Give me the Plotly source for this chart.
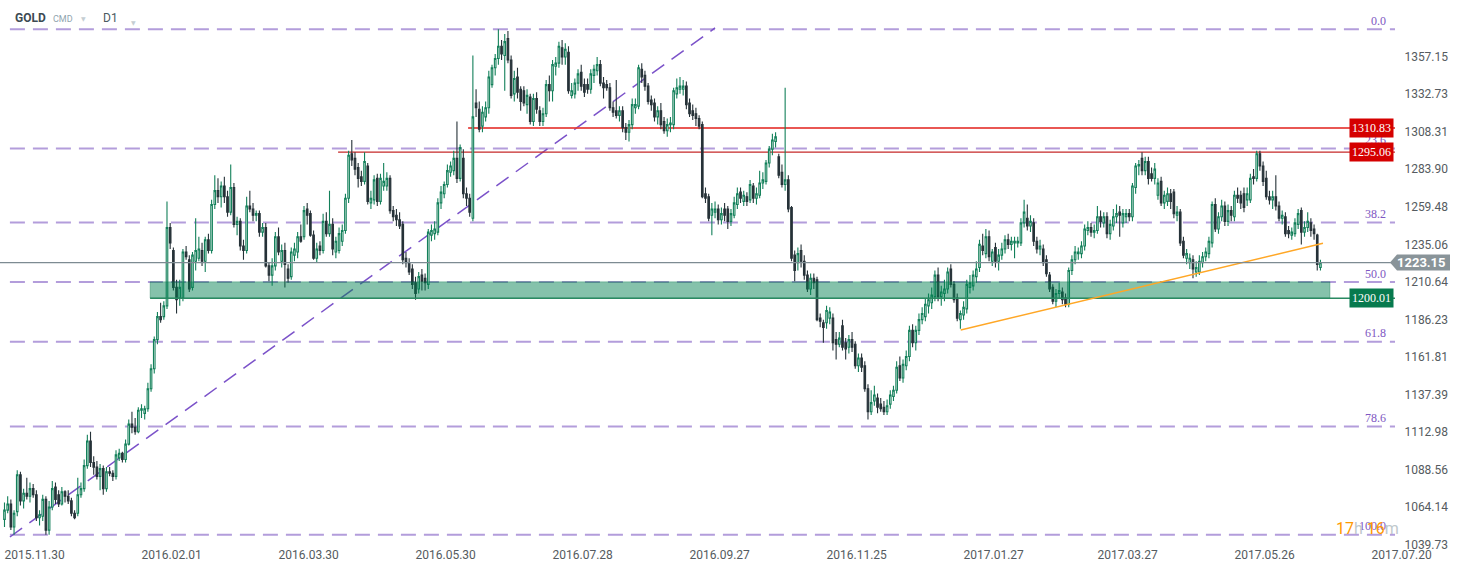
import plotly.graph_objects as go

# ---------------- data ----------------
OPEN = [
    1056, 1062, 1066, 1051, 1061, 1085, 1068, 1073, 1071, 1076,
    1072, 1057, 1058, 1069, 1049, 1064, 1077, 1072, 1066, 1074,
    1071, 1068, 1060, 1060, 1072, 1076, 1091, 1107, 1093, 1090,
    1084, 1089, 1076, 1087, 1086, 1084, 1096, 1099, 1095, 1105,
    1118, 1116, 1113, 1127, 1125, 1128, 1141, 1154, 1173, 1188,
    1188, 1195, 1246, 1231, 1207, 1200, 1200, 1230, 1225, 1207,
    1224, 1226, 1231, 1224, 1238, 1231, 1261, 1270, 1266, 1273,
    1266, 1256, 1272, 1248, 1250, 1234, 1231, 1260, 1258, 1254,
    1255, 1243, 1246, 1221, 1215, 1221, 1240, 1224, 1231, 1219,
    1214, 1228, 1230, 1240, 1240, 1258, 1255, 1241, 1226, 1234,
    1231, 1250, 1242, 1248, 1230, 1231, 1237, 1244, 1265, 1294,
    1291, 1285, 1279, 1276, 1286, 1262, 1264, 1278, 1263, 1273,
    1273, 1278, 1257, 1254, 1251, 1248, 1226, 1223, 1219, 1210,
    1206, 1215, 1213, 1209, 1241, 1242, 1243, 1262, 1268, 1274,
    1282, 1283, 1291, 1278, 1291, 1268, 1265, 1252, 1327, 1323,
    1312, 1318, 1324, 1339, 1350, 1356, 1364, 1358, 1369, 1355,
    1333, 1344, 1336, 1335, 1326, 1331, 1315, 1330, 1322, 1315,
    1320, 1339, 1335, 1351, 1353, 1363, 1357, 1360, 1332, 1333,
    1340, 1347, 1339, 1339, 1336, 1345, 1348, 1352, 1340, 1339,
    1337, 1324, 1322, 1319, 1322, 1311, 1308, 1313, 1324, 1325,
    1349, 1345, 1338, 1329, 1327, 1318, 1322, 1315, 1309, 1313,
    1313, 1333, 1336, 1336, 1338, 1327, 1322, 1320, 1317, 1313,
    1268, 1266, 1254, 1256, 1258, 1251, 1258, 1258, 1250, 1254,
    1261, 1269, 1263, 1266, 1264, 1273, 1265, 1267, 1275, 1276,
    1288, 1297, 1302, 1292, 1282, 1274, 1277, 1259, 1228, 1223,
    1231, 1224, 1215, 1206, 1213, 1212, 1187, 1184, 1184, 1187,
    1187, 1173, 1170, 1182, 1171, 1168, 1173, 1170, 1156, 1161,
    1156, 1141, 1126, 1133, 1135, 1131, 1129, 1126, 1131, 1136,
    1140, 1156, 1148, 1156, 1162, 1179, 1171, 1179, 1186, 1188,
    1195, 1197, 1201, 1215, 1201, 1203, 1206, 1219, 1209, 1200,
    1186, 1189, 1193, 1207, 1208, 1214, 1220, 1234, 1229, 1240,
    1224, 1233, 1224, 1228, 1232, 1238, 1235, 1236, 1236, 1236,
    1249, 1252, 1247, 1249, 1237, 1232, 1232, 1225, 1215, 1207,
    1198, 1203, 1204, 1200, 1196, 1218, 1225, 1229, 1229, 1234,
    1244, 1246, 1243, 1244, 1253, 1249, 1253, 1242, 1247, 1253,
    1256, 1249, 1253, 1255, 1253, 1272, 1286, 1291, 1283, 1289,
    1281, 1278, 1267, 1276, 1262, 1263, 1268, 1269, 1254, 1256,
    1237, 1226, 1223, 1225, 1217, 1217, 1223, 1227, 1229, 1236,
    1261, 1245, 1253, 1260, 1250, 1257, 1253, 1267, 1267, 1268,
    1264, 1264, 1279, 1278, 1294, 1286, 1278, 1266, 1264, 1266,
    1260, 1252, 1253, 1244, 1241, 1242, 1248, 1257, 1243, 1246,
    1249, 1245, 1241, 1220,
]
HIGH = [
    1067, 1071, 1069, 1062, 1088, 1087, 1076, 1083, 1080, 1079,
    1075, 1062, 1072, 1071, 1068, 1081, 1080, 1075, 1077, 1075,
    1075, 1070, 1062, 1083, 1080, 1095, 1111, 1113, 1097, 1094,
    1092, 1091, 1090, 1090, 1088, 1101, 1102, 1100, 1108, 1121,
    1126, 1122, 1129, 1131, 1130, 1145, 1157, 1175, 1191, 1197,
    1198, 1263, 1249, 1233, 1212, 1212, 1232, 1234, 1228, 1230,
    1252, 1240, 1236, 1240, 1242, 1264, 1280, 1278, 1276, 1279,
    1270, 1287, 1275, 1253, 1252, 1238, 1266, 1270, 1262, 1257,
    1257, 1249, 1249, 1223, 1226, 1243, 1246, 1235, 1236, 1222,
    1233, 1236, 1243, 1248, 1260, 1262, 1257, 1244, 1236, 1237,
    1255, 1256, 1270, 1252, 1240, 1246, 1248, 1268, 1296, 1303,
    1295, 1288, 1283, 1295, 1288, 1270, 1280, 1281, 1281, 1288,
    1282, 1280, 1260, 1258, 1256, 1250, 1230, 1226, 1222, 1214,
    1217, 1219, 1216, 1245, 1248, 1250, 1265, 1273, 1276, 1287,
    1289, 1296, 1315, 1300, 1297, 1272, 1268, 1358, 1336, 1328,
    1325, 1328, 1348, 1352, 1359, 1375, 1368, 1372, 1374, 1358,
    1348, 1350, 1338, 1338, 1336, 1333, 1333, 1334, 1325, 1324,
    1342, 1345, 1355, 1357, 1367, 1368, 1366, 1364, 1340, 1343,
    1349, 1352, 1343, 1343, 1349, 1352, 1357, 1355, 1344, 1342,
    1340, 1328, 1342, 1325, 1325, 1314, 1316, 1330, 1330, 1352,
    1353, 1348, 1340, 1332, 1330, 1325, 1327, 1318, 1317, 1318,
    1337, 1343, 1344, 1342, 1341, 1330, 1326, 1324, 1319, 1315,
    1272, 1268, 1262, 1263, 1261, 1259, 1262, 1260, 1258, 1266,
    1272, 1272, 1270, 1269, 1277, 1275, 1272, 1283, 1282, 1290,
    1299, 1307, 1308, 1294, 1287, 1337, 1280, 1260, 1231, 1233,
    1235, 1228, 1218, 1216, 1216, 1214, 1190, 1186, 1195, 1194,
    1190, 1178, 1178, 1186, 1174, 1176, 1178, 1172, 1164, 1164,
    1159, 1144, 1140, 1143, 1138, 1135, 1133, 1134, 1140, 1143,
    1159, 1162, 1160, 1166, 1182, 1183, 1182, 1190, 1194, 1200,
    1203, 1207, 1218, 1220, 1208, 1212, 1220, 1222, 1211, 1203,
    1192, 1198, 1212, 1215, 1218, 1224, 1238, 1242, 1245, 1244,
    1232, 1236, 1232, 1236, 1241, 1242, 1240, 1240, 1240, 1252,
    1264, 1261, 1254, 1252, 1240, 1238, 1235, 1228, 1217, 1209,
    1206, 1210, 1207, 1203, 1220, 1228, 1234, 1233, 1237, 1248,
    1250, 1249, 1248, 1260, 1257, 1256, 1256, 1251, 1258, 1261,
    1260, 1258, 1258, 1258, 1275, 1288, 1290, 1295, 1292, 1292,
    1285, 1288, 1278, 1279, 1270, 1272, 1271, 1271, 1260, 1258,
    1240, 1232, 1229, 1228, 1224, 1228, 1230, 1233, 1240, 1263,
    1265, 1256, 1264, 1263, 1261, 1260, 1270, 1272, 1270, 1272,
    1272, 1281, 1284, 1296, 1296, 1289, 1283, 1270, 1270, 1280,
    1263, 1257, 1256, 1247, 1246, 1252, 1258, 1259, 1250, 1256,
    1252, 1248, 1242, 1225,
]
LOW = [
    1051, 1060, 1049, 1046, 1058, 1065, 1063, 1069, 1067, 1070,
    1055, 1052, 1055, 1046, 1046, 1062, 1066, 1064, 1065, 1067,
    1066, 1058, 1056, 1058, 1070, 1074, 1089, 1090, 1085, 1082,
    1075, 1072, 1074, 1084, 1081, 1082, 1094, 1093, 1093, 1104,
    1112, 1111, 1112, 1122, 1121, 1126, 1139, 1151, 1170, 1184,
    1186, 1193, 1232, 1205, 1190, 1195, 1198, 1225, 1204, 1205,
    1218, 1224, 1221, 1217, 1229, 1229, 1258, 1262, 1259, 1262,
    1253, 1254, 1246, 1241, 1231, 1225, 1229, 1256, 1250, 1250,
    1240, 1240, 1220, 1211, 1208, 1218, 1228, 1220, 1207, 1210,
    1212, 1224, 1226, 1236, 1238, 1248, 1240, 1225, 1223, 1228,
    1229, 1240, 1240, 1228, 1226, 1229, 1234, 1242, 1262, 1286,
    1280, 1272, 1273, 1274, 1261, 1258, 1261, 1260, 1261, 1270,
    1270, 1255, 1250, 1247, 1245, 1222, 1220, 1215, 1206, 1199,
    1203, 1205, 1205, 1206, 1237, 1238, 1241, 1258, 1265, 1272,
    1279, 1280, 1275, 1276, 1265, 1260, 1253, 1250, 1318, 1308,
    1308, 1315, 1320, 1337, 1345, 1352, 1355, 1335, 1353, 1330,
    1328, 1330, 1322, 1325, 1320, 1313, 1312, 1320, 1312, 1312,
    1318, 1328, 1328, 1345, 1350, 1352, 1352, 1333, 1330, 1330,
    1335, 1335, 1331, 1333, 1333, 1340, 1345, 1338, 1330, 1335,
    1322, 1318, 1317, 1315, 1308, 1303, 1302, 1310, 1320, 1323,
    1340, 1335, 1326, 1322, 1315, 1313, 1310, 1307, 1305, 1308,
    1310, 1330, 1333, 1332, 1323, 1318, 1316, 1312, 1310, 1265,
    1262, 1250, 1241, 1252, 1248, 1248, 1250, 1245, 1247, 1252,
    1258, 1262, 1260, 1260, 1262, 1262, 1261, 1265, 1271, 1274,
    1285, 1293, 1298, 1278, 1272, 1270, 1256, 1224, 1211, 1218,
    1220, 1212, 1204, 1202, 1206, 1185, 1181, 1171, 1180, 1183,
    1166, 1160, 1168, 1166, 1160, 1164, 1165, 1154, 1152, 1152,
    1139, 1121, 1124, 1130, 1125, 1126, 1124, 1124, 1128, 1133,
    1138, 1146, 1145, 1153, 1159, 1168, 1166, 1176, 1183, 1185,
    1190, 1193, 1198, 1198, 1195, 1198, 1203, 1207, 1197, 1185,
    1180, 1186, 1190, 1203, 1205, 1210, 1217, 1228, 1226, 1224,
    1221, 1220, 1218, 1225, 1229, 1232, 1231, 1226, 1233, 1234,
    1246, 1244, 1243, 1234, 1229, 1228, 1221, 1214, 1204, 1196,
    1194, 1200, 1196, 1194, 1194, 1215, 1222, 1225, 1226, 1231,
    1241, 1240, 1239, 1242, 1246, 1246, 1239, 1238, 1244, 1249,
    1240, 1246, 1249, 1250, 1250, 1268, 1280, 1280, 1280, 1274,
    1276, 1274, 1264, 1260, 1258, 1260, 1258, 1252, 1250, 1234,
    1226, 1222, 1219, 1213, 1214, 1215, 1220, 1224, 1226, 1233,
    1243, 1242, 1250, 1247, 1247, 1250, 1250, 1262, 1258, 1256,
    1260, 1262, 1274, 1276, 1283, 1273, 1264, 1261, 1258, 1257,
    1250, 1248, 1240, 1239, 1238, 1240, 1245, 1235, 1240, 1243,
    1240, 1238, 1218, 1218,
]
CLOSE = [
    1062, 1066, 1051, 1060, 1085, 1068, 1073, 1071, 1076, 1072,
    1057, 1059, 1069, 1049, 1064, 1076, 1069, 1066, 1074, 1071,
    1068, 1060, 1057, 1072, 1076, 1091, 1107, 1093, 1090, 1084,
    1089, 1076, 1087, 1086, 1084, 1098, 1099, 1095, 1105, 1118,
    1116, 1113, 1127, 1128, 1128, 1141, 1154, 1173, 1188, 1186,
    1195, 1246, 1236, 1207, 1199, 1207, 1230, 1227, 1206, 1228,
    1231, 1232, 1224, 1238, 1231, 1261, 1270, 1266, 1273, 1266,
    1256, 1272, 1248, 1250, 1234, 1231, 1260, 1258, 1254, 1255,
    1243, 1246, 1221, 1215, 1221, 1240, 1230, 1231, 1222, 1213,
    1230, 1232, 1240, 1237, 1257, 1254, 1241, 1226, 1232, 1231,
    1250, 1242, 1248, 1232, 1237, 1242, 1244, 1265, 1293, 1290,
    1284, 1278, 1276, 1289, 1263, 1265, 1277, 1263, 1278, 1276,
    1278, 1257, 1253, 1251, 1247, 1225, 1223, 1217, 1209, 1203,
    1214, 1211, 1210, 1243, 1244, 1245, 1262, 1269, 1274, 1283,
    1286, 1291, 1278, 1298, 1268, 1265, 1256, 1318, 1324, 1310,
    1321, 1324, 1344, 1350, 1356, 1364, 1359, 1367, 1355, 1332,
    1343, 1334, 1328, 1327, 1332, 1315, 1330, 1323, 1315, 1320,
    1339, 1335, 1352, 1353, 1364, 1357, 1362, 1335, 1335, 1340,
    1346, 1338, 1334, 1336, 1346, 1349, 1352, 1340, 1337, 1337,
    1324, 1321, 1319, 1322, 1311, 1308, 1313, 1326, 1326, 1350,
    1344, 1338, 1328, 1326, 1318, 1322, 1313, 1309, 1313, 1314,
    1335, 1337, 1338, 1338, 1326, 1320, 1319, 1317, 1312, 1266,
    1265, 1252, 1258, 1258, 1251, 1255, 1254, 1250, 1255, 1262,
    1268, 1265, 1267, 1263, 1274, 1265, 1268, 1275, 1277, 1288,
    1297, 1303, 1305, 1280, 1274, 1277, 1258, 1226, 1218, 1229,
    1224, 1215, 1206, 1213, 1210, 1186, 1185, 1181, 1192, 1191,
    1171, 1170, 1174, 1168, 1167, 1173, 1168, 1156, 1161, 1155,
    1141, 1126, 1132, 1137, 1129, 1128, 1126, 1130, 1137, 1140,
    1155, 1148, 1157, 1162, 1179, 1171, 1179, 1186, 1190, 1196,
    1199, 1202, 1215, 1201, 1204, 1206, 1217, 1209, 1199, 1187,
    1190, 1194, 1209, 1210, 1215, 1219, 1235, 1231, 1240, 1227,
    1230, 1224, 1228, 1232, 1238, 1235, 1237, 1237, 1237, 1249,
    1256, 1247, 1250, 1237, 1232, 1234, 1223, 1216, 1206, 1198,
    1203, 1205, 1199, 1196, 1218, 1225, 1230, 1230, 1234, 1245,
    1246, 1243, 1244, 1253, 1250, 1253, 1242, 1248, 1253, 1255,
    1254, 1255, 1255, 1253, 1273, 1286, 1287, 1283, 1289, 1278,
    1278, 1284, 1275, 1262, 1267, 1268, 1263, 1255, 1256, 1236,
    1228, 1229, 1226, 1219, 1220, 1224, 1227, 1230, 1237, 1261,
    1245, 1253, 1260, 1250, 1257, 1254, 1267, 1265, 1262, 1259,
    1268, 1278, 1278, 1294, 1286, 1276, 1266, 1264, 1266, 1260,
    1252, 1254, 1242, 1242, 1243, 1249, 1255, 1243, 1246, 1250,
    1244, 1242, 1222, 1223.15,
]
N_BARS = min(len(OPEN), len(HIGH), len(LOW), len(CLOSE))
BAR_POS = list(range(N_BARS))

X_TICK_POS = [0, 43, 86, 129, 172, 215, 258, 301, 343, 386, 429]
X_TICK_TEXT = ["2015.11.30", "2016.02.01", "2016.03.30", "2016.05.30", "2016.07.28",
               "2016.09.27", "2016.11.25", "2017.01.27", "2017.03.27", "2017.05.26",
               "2017.07.20"]
Y_TICKS = [1039.73, 1064.14, 1088.56, 1112.98, 1137.39, 1161.81, 1186.23,
           1210.64, 1235.06, 1259.48, 1283.90, 1308.31, 1332.73, 1357.15]

FIB_LEVELS = [0.0, 23.6, 38.2, 50.0, 61.8, 78.6, 100.0]
FIB_LABELS = ["0.0", "23.6", "38.2", "50.0", "61.8", "78.6", "100.0"]
FIB_TOP = 1375.0
FIB_BOTTOM = 1046.0
FIB_START = 1.7

LEVEL_PRICES = [1310.83, 1295.06]
LEVEL_STARTS = [145.5, 104.7]
ZONE_LOW = 1200.01
ZONE_HIGH = 1210.6
ZONE_START = 45.7
ZONE_END = 416.0
LAST_PRICE = 1223.15

DIAG_X = [1.7, 223.0]
DIAG_Y = [1044.5, 1375.9]
ORANGE_X = [300.1, 413.8]
ORANGE_Y = [1179.3, 1235.7]

# ---------------- layout geometry ----------------
W, H = 1462, 573
ML, MR, MT, MB = 0, 67, 0, 27
PW, PH = W - ML - MR, H - MT - MB
X_RANGE = [-1.41, 436.4]
Y_RANGE = [1038.65, 1394.1]
UNITS_PER_PX = (Y_RANGE[1] - Y_RANGE[0]) / PH


def px_x(px):
    return (px - ML) / PW


def px_y(py):
    return 1 - (py - MT) / PH


fig = go.Figure()
fig.add_trace(go.Candlestick(
    x=BAR_POS, open=OPEN[:N_BARS], high=HIGH[:N_BARS], low=LOW[:N_BARS], close=CLOSE[:N_BARS],
    increasing=dict(line=dict(color="#13805a", width=1.1), fillcolor="#ffffff"),
    decreasing=dict(line=dict(color="#263238", width=1.1), fillcolor="#263238"),
    whiskerwidth=0, showlegend=False, hoverinfo="skip",
))

shapes = []
annotations = []

# fibonacci levels
for lvl, lab in zip(FIB_LEVELS, FIB_LABELS):
    price = FIB_TOP - (FIB_TOP - FIB_BOTTOM) * lvl / 100.0
    shapes.append(dict(type="line", xref="x", yref="y", x0=FIB_START, x1=X_RANGE[1],
                       y0=price, y1=price, layer="below",
                       line=dict(color="#b39ddb", width=2, dash="15px,8px")))
    annotations.append(dict(xref="paper", yref="y", x=px_x(1388), y=price,
                            xanchor="right", yanchor="middle", yshift=8.5, showarrow=False,
                            text=lab, font=dict(family="Liberation Serif", size=12, color="#7e57c2")))

# diagonal fib trend line
shapes.append(dict(type="line", xref="x", yref="y", x0=DIAG_X[0], x1=DIAG_X[1],
                   y0=DIAG_Y[0], y1=DIAG_Y[1], layer="below",
                   line=dict(color="#7b52c9", width=1.5, dash="15px,9px")))

# red horizontal levels
level_styles = [dict(color="rgba(229,57,53,0.85)", width=2), dict(color="#c62828", width=1.3)]
for price, start, st in zip(LEVEL_PRICES, LEVEL_STARTS, level_styles):
    shapes.append(dict(type="line", xref="x", yref="y", x0=start, x1=X_RANGE[1],
                       y0=price, y1=price, layer="below", line=st))
    annotations.append(dict(xref="paper", yref="y", x=px_x(1394), y=price,
                            xanchor="right", yanchor="middle", showarrow=False,
                            text=f"{price:.2f}", bgcolor="#d50000", borderpad=2,
                            font=dict(family="Liberation Serif", size=12, color="#ffffff")))

# support zone
shapes.append(dict(type="rect", xref="x", yref="y", x0=ZONE_START, x1=ZONE_END,
                   y0=ZONE_LOW, y1=ZONE_HIGH, layer="above",
                   fillcolor="rgba(0,128,80,0.48)",
                   line=dict(color="rgba(0,110,70,0.3)", width=1)))
shapes.append(dict(type="line", xref="x", yref="y", x0=ZONE_START, x1=X_RANGE[1],
                   y0=ZONE_LOW, y1=ZONE_LOW, layer="above",
                   line=dict(color="#2a8a62", width=1.5)))
annotations.append(dict(xref="paper", yref="y", x=px_x(1394), y=ZONE_LOW,
                        xanchor="right", yanchor="middle", showarrow=False,
                        text=f"{ZONE_LOW:.2f}", bgcolor="#077a4e", borderpad=2,
                        font=dict(family="Liberation Serif", size=12, color="#ffffff")))

# orange trend line
shapes.append(dict(type="line", xref="x", yref="y", x0=ORANGE_X[0], x1=ORANGE_X[1],
                   y0=ORANGE_Y[0], y1=ORANGE_Y[1], layer="above",
                   line=dict(color="#ffa726", width=1.5)))

# last price line + tag
shapes.append(dict(type="line", xref="x", yref="y", x0=X_RANGE[0], x1=X_RANGE[1],
                   y0=LAST_PRICE, y1=LAST_PRICE, layer="above",
                   line=dict(color="#7d8b92", width=1.2)))
hh = 8 * UNITS_PER_PX
tip, bx0, bx1 = px_x(1390), px_x(1397), px_x(1450)
shapes.append(dict(type="path", xref="paper", yref="y",
                   path=(f"M {tip},{LAST_PRICE} L {bx0},{LAST_PRICE + hh} L {bx1},{LAST_PRICE + hh} "
                         f"L {bx1},{LAST_PRICE - hh} L {bx0},{LAST_PRICE - hh} Z"),
                   fillcolor="#899499", line=dict(width=0), layer="above"))
annotations.append(dict(xref="paper", yref="y", x=px_x(1421), y=LAST_PRICE,
                        xanchor="center", yanchor="middle", showarrow=False,
                        text="<b>1223.15</b>",
                        font=dict(family="Roboto", size=13, color="#ffffff")))

# header
annotations += [
    dict(xref="paper", yref="paper", x=px_x(13), y=px_y(18), xanchor="left", yanchor="middle",
         showarrow=False, text="<b>GOLD</b>", font=dict(family="Roboto", size=12, color="#3d4a52")),
    dict(xref="paper", yref="paper", x=px_x(51), y=px_y(19), xanchor="left", yanchor="middle",
         showarrow=False, text="CMD", font=dict(family="Roboto", size=9, color="#90a4ae")),
    dict(xref="paper", yref="paper", x=px_x(79), y=px_y(19), xanchor="left", yanchor="middle",
         showarrow=False, text="▼", font=dict(family="DejaVu Sans", size=6, color="#c5ced3")),
    dict(xref="paper", yref="paper", x=px_x(101), y=px_y(18), xanchor="left", yanchor="middle",
         showarrow=False, text="D1", font=dict(family="Roboto", size=12, color="#4b5a62")),
    dict(xref="paper", yref="paper", x=px_x(129), y=px_y(23), xanchor="left", yanchor="middle",
         showarrow=False, text="▼", font=dict(family="DejaVu Sans", size=6, color="#c5ced3")),
    dict(xref="paper", yref="paper", x=px_x(1334), y=px_y(528), xanchor="left", yanchor="middle",
         showarrow=False,
         text=("<span style='color:#ff9800'>17</span><span style='color:#c0c8cc'>h </span>"
               "<span style='color:#ff9800'>16</span><span style='color:#c0c8cc'>m</span>"),
         font=dict(family="Roboto", size=16)),
]

fig.update_layout(
    width=W, height=H,
    margin=dict(l=ML, r=MR, t=MT, b=MB),
    paper_bgcolor="#ffffff", plot_bgcolor="#ffffff",
    showlegend=False,
    shapes=shapes, annotations=annotations,
    xaxis=dict(range=X_RANGE, rangeslider=dict(visible=False), showgrid=False, zeroline=False,
               showline=False, tickmode="array", tickvals=X_TICK_POS, ticktext=X_TICK_TEXT,
               ticks="", ticklabelposition="outside right",
               tickfont=dict(family="Roboto", size=12, color="#555b60")),
    yaxis=dict(range=Y_RANGE, side="right", showgrid=False, zeroline=False, showline=False,
               tickmode="array", tickvals=Y_TICKS, ticktext=[f"{v:.2f}" for v in Y_TICKS],
               ticks="outside", ticklen=6, tickcolor="rgba(0,0,0,0)",
               tickfont=dict(family="Roboto", size=12, color="#555b60")),
)

# remove the default 8px page margin so the figure sits at the window's corner
fig.write_html("out.html", config={"displayModeBar": False},
               post_script="document.body.style.margin='0px';")
